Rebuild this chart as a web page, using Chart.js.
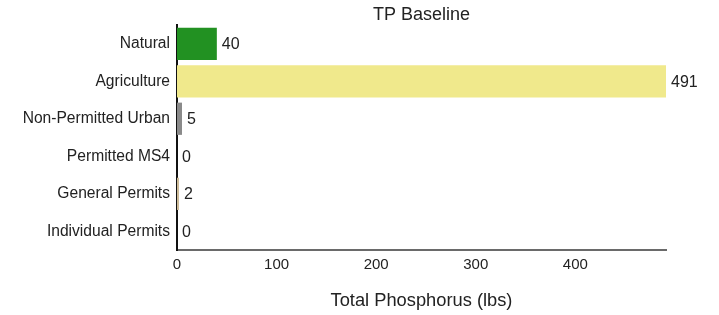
<!DOCTYPE html>
<html>
<head>
<meta charset="utf-8">
<script src="https://cdn.jsdelivr.net/npm/chart.js@4"></script>
<style>
html,body{margin:0;padding:0;background:#fff;}
#wrap{width:719px;height:315px;}
</style>
</head>
<body>
<div id="wrap"><canvas id="c" width="719" height="315"></canvas></div>
<script>
const categories = ["Natural", "Agriculture", "Non-Permitted Urban", "Permitted MS4", "General Permits", "Individual Permits"];
const values = [40, 491, 5, 0, 2, 0];
const barColors = ["#229122", "#f0e98c", "#8a8a8a", "#999999", "#cdbb98", "#999999"];
const xTicks = [0, 100, 200, 300, 400];
const chartTitle = "TP Baseline";

const FONT = "'Liberation Sans', Arial, sans-serif";

const valueLabels = {
  id: 'valueLabels',
  afterDatasetsDraw(chart) {
    const ctx = chart.ctx;
    const meta = chart.getDatasetMeta(0);
    ctx.save();
    ctx.font = "16px " + FONT;
    ctx.fillStyle = "#222";
    ctx.textAlign = "left";
    ctx.textBaseline = "middle";
    meta.data.forEach((bar, i) => {
      ctx.fillText(String(values[i]), bar.x + 5, bar.y + 1);
    });
    // title centered over plot area
    const ca = chart.chartArea;
    ctx.font = "18px " + FONT;
    ctx.textAlign = "center";
    ctx.fillText(chartTitle, (ca.left + ca.right) / 2, 15);
    ctx.restore();
  }
};

new Chart(document.getElementById('c'), {
  type: 'bar',
  data: {
    labels: categories,
    datasets: [{
      data: values,
      backgroundColor: barColors,
      borderWidth: 0,
      categoryPercentage: 0.86,
      barPercentage: 1.0
    }]
  },
  options: {
    indexAxis: 'y',
    responsive: false,
    animation: false,
    layout: { padding: { left: 0, right: 53, top: 25, bottom: 0 } },
    plugins: {
      legend: { display: false },
      tooltip: { enabled: false },
      title: { display: false }
    },
    scales: {
      x: {
        type: 'linear',
        min: 0,
        max: 491,
        afterBuildTicks(scale) { scale.ticks = xTicks.map(v => ({ value: v })); },
        afterFit(scale) { scale.height = 65; },
        grid: { display: false, drawOnChartArea: false, drawTicks: true, tickLength: 3, tickColor: "#777" },
        border: { display: true, color: "#6a6a6a", width: 2 },
        ticks: { color: "#222", font: { family: FONT, size: 15 }, padding: 3, maxRotation: 0 },
        title: {
          display: true,
          text: "Total Phosphorus (lbs)",
          color: "#222",
          font: { family: FONT, size: 18.3 },
          padding: { top: 8, bottom: 3 }
        }
      },
      y: {
        afterFit(scale) { scale.width = 177; },
        grid: { display: false, drawTicks: false },
        border: { display: true, color: "#111", width: 2 },
        ticks: { color: "#222", font: { family: FONT, size: 15.6 }, padding: 7 }
      }
    }
  },
  plugins: [valueLabels]
});
</script>
</body>
</html>
